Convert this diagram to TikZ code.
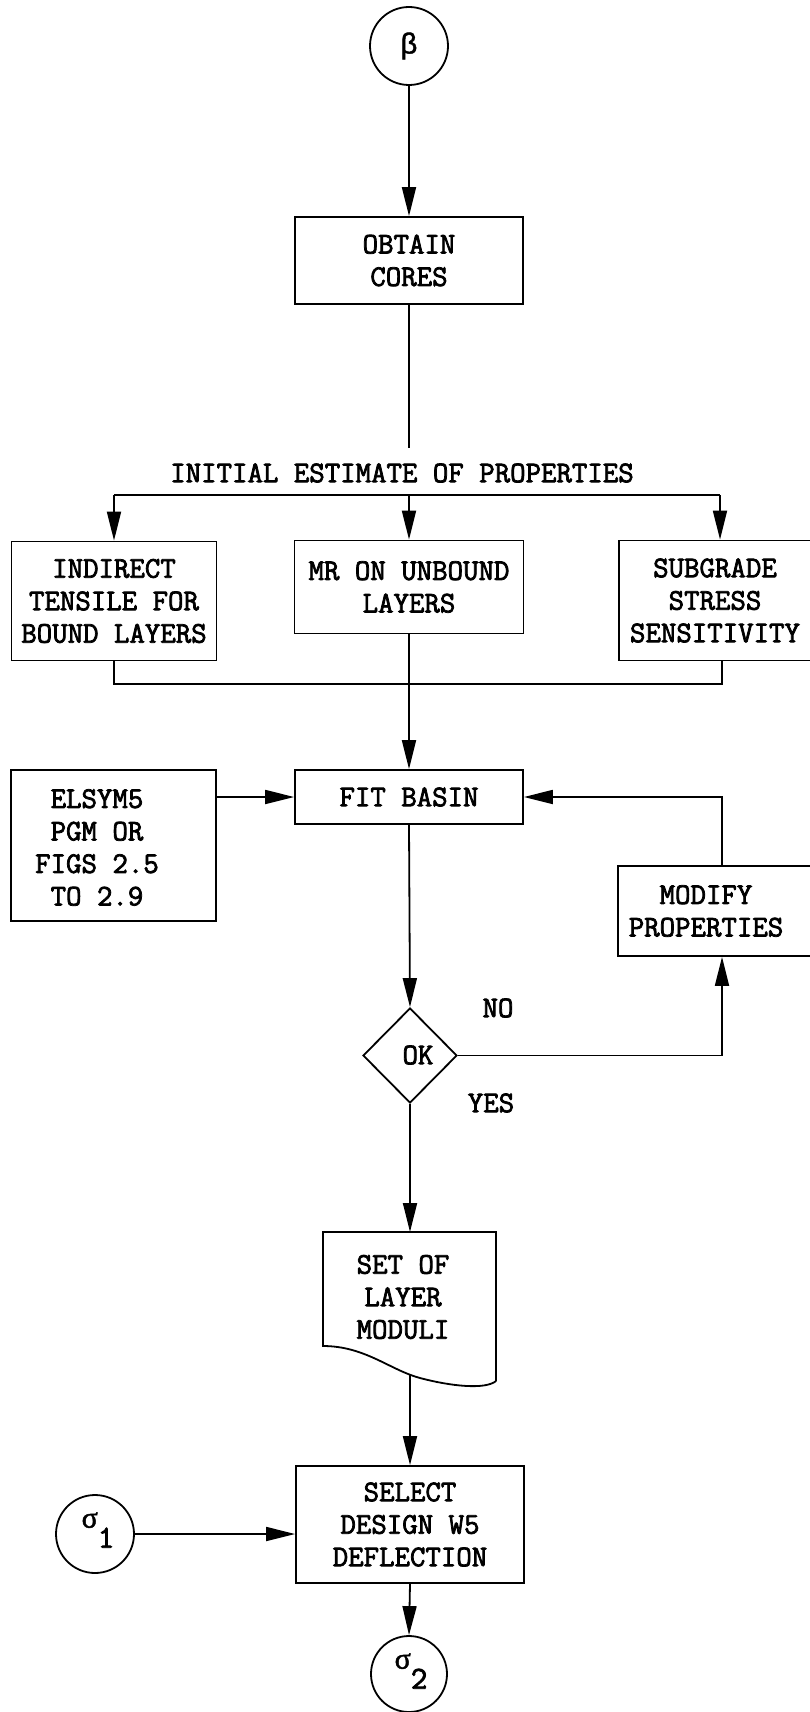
\documentclass[tikz,border=0pt]{standalone}
\usepackage{fontspec}
\usetikzlibrary{arrows.meta,shapes.geometric}
\newfontfamily\tw[FakeBold=2.5]{Latin Modern Mono}
\newfontfamily\grk[FakeBold=1.5]{Liberation Serif}
\newfontfamily\grks[FakeBold=1.5]{Liberation Sans}
\begin{document}
\begin{tikzpicture}[x=1pt,y=-1pt,
  ln/.style={line width=1.8pt},
  box/.style={draw,line width=1.8pt,inner sep=0pt,align=center,font=\tw\fontsize{30}{32.5}\selectfont},
  txt/.style={inner sep=0pt,align=center,font=\tw\fontsize{30}{32.5}\selectfont},
  conn/.style={circle,draw,line width=1.8pt,minimum size=78pt,inner sep=0pt},
  arr/.style={line width=1.8pt,-{Triangle[length=29pt,width=14pt]}}]
\useasboundingbox (0,0) rectangle (810,1712);
% nodes
\node[conn] (beta) at (409,46) {\grks\fontsize{29}{29}\selectfont β};
\node[box,minimum width=228pt,minimum height=87pt] (obtain) at (409,260.5) {OBTAIN\\CORES};
\node[txt] (init) at (402,473) {INITIAL ESTIMATE OF PROPERTIES};
\node[box,minimum width=205pt,minimum height=119pt] (indirect) at (114,601) {INDIRECT\\TENSILE FOR\\BOUND LAYERS};
\node[box,minimum width=229pt,minimum height=93pt] (mr) at (409,587) {MR ON UNBOUND\\LAYERS};
\node[box,minimum width=192pt,minimum height=120pt] (subgrade) at (715,600.5) {SUBGRADE\\STRESS\\SENSITIVITY};
\node[box,minimum width=228pt,minimum height=54pt] (fit) at (409,797) {FIT BASIN};
\node[draw,line width=1.8pt,minimum width=205pt,minimum height=151pt] (elsym) at (113.5,845.5) {};
\node[txt] (elsymt) at (97,847.5) {ELSYM5\\PGM OR\\FIGS 2.5\\TO 2.9};
\node[draw,line width=1.8pt,minimum width=193pt,minimum height=90pt] (modify) at (714.5,911) {};
\node[txt] (modifyt) at (706,911) {MODIFY\\PROPERTIES};
\node[draw,line width=1.8pt,diamond,aspect=1,minimum width=94pt,minimum height=95pt,inner sep=0pt] (ok) at (410,1055.5) {};
\node[txt] (okt) at (418,1055) {OK};
\node[txt] (no) at (498,1008) {NO};
\node[txt] (yes) at (491,1103) {YES};
% document shape
\draw[ln] (496,1381) -- (496,1232) -- (323,1232) -- (323,1346)
  .. controls (365,1346) and (390,1370) .. (420,1378)
  .. controls (450,1386) and (485,1390) .. (496,1381);
\node[txt] (doc) at (403,1297) {SET OF\\LAYER\\MODULI};
\coordinate (doctop) at (410,1232);
\coordinate (docbot) at (410,1374);
\node[box,minimum width=228pt,minimum height=117pt] (select) at (410,1524.5) {SELECT\\DESIGN W5\\DEFLECTION};
\node[conn] (sigma1) at (95,1534) {};
\node[inner sep=0pt] (s1t) at (98,1530) {{\grk\fontsize{30}{30}\selectfont σ}\raisebox{-20pt}{\tw\fontsize{32}{32}\selectfont 1}};
\node[conn,minimum size=76pt] (sigma2) at (409,1674) {};
\node[inner sep=0pt] (s2t) at (411,1671) {{\grk\fontsize{30}{30}\selectfont σ}\raisebox{-20pt}{\tw\fontsize{32}{32}\selectfont 2}};
% coordinates
\coordinate (c1) at (409,448);
\coordinate (c2) at (409,495);
\coordinate (bl) at (114,495);
\coordinate (br) at (720,495);
\coordinate (j1) at (114,684);
\coordinate (j2) at (722,684);
\coordinate (m1) at (722,797);
\coordinate (m2) at (722,1055.5);
% connectors
\draw[arr] (beta) -- (obtain);
\draw[ln] (obtain) -- (c1);
\draw[ln] (bl) -- (br);
\draw[arr] (bl) -- (indirect.north);
\draw[arr] (c2) -- (mr.north);
\draw[arr] (br) -- (br |- subgrade.north);
\draw[ln] (indirect.south) -- (j1) -- (j2) -- (j2 |- subgrade.south);
\draw[arr] (mr.south) -- (fit.north);
\draw[arr] (elsym.east |- fit.west) -- (fit.west);
\draw[arr] (m1 |- modify.north) -- (m1) -- (fit.east);
\draw[arr] (fit.south) -- (ok.north);
\draw[arr] (ok.east) -- (m2) -- (m2 |- modify.south);
\draw[arr] (ok.south) -- (doctop);
\draw[arr] (docbot) -- (select.north);
\draw[arr] (sigma1.east) -- (sigma1.east -| select.west);
\draw[arr] (select.south) -- (sigma2.north);
\end{tikzpicture}
\end{document}
